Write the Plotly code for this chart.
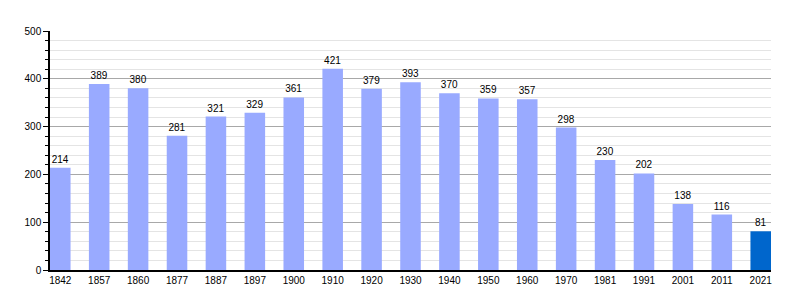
import plotly.graph_objects as go

years = ["1842", "1857", "1860", "1877", "1887", "1897", "1900", "1910", "1920", "1930",
         "1940", "1950", "1960", "1970", "1981", "1991", "2001", "2011", "2021"]
population = [214, 389, 380, 281, 321, 329, 361, 421, 379, 393,
              370, 359, 357, 298, 230, 202, 138, 116, 81]
colors = ["#99aaff"] * (len(years) - 1) + ["#0066cc"]

fig = go.Figure(go.Bar(
    x=years, y=population,
    marker=dict(color=colors, line=dict(width=0)),
    text=[str(v) for v in population],
    textposition="outside",
    textfont=dict(family="Liberation Sans, Arial, sans-serif", size=10, color="#000"),
    cliponaxis=False,
))

fig.update_layout(
    width=800, height=300,
    margin=dict(l=50, r=29, t=31, b=30),
    paper_bgcolor="white", plot_bgcolor="white",
    bargap=0.472,
    showlegend=False,
    font=dict(family="Liberation Sans, Arial, sans-serif", size=10, color="#000"),
    xaxis=dict(
        type="category", range=[-0.264, len(years) - 1 + 0.264],
        showline=True, linecolor="#000", linewidth=1.5,
        ticks="", showgrid=False, tickfont=dict(size=10),
    ),
    yaxis=dict(
        range=[0, 500], dtick=100,
        showline=True, linecolor="#000", linewidth=1.5,
        ticks="outside", ticklen=5, tickcolor="#000",
        showgrid=True, gridcolor="#a8a8a8", gridwidth=1,
        zeroline=False, tickfont=dict(size=10),
        minor=dict(dtick=20, showgrid=True, gridcolor="#e4e4e4", gridwidth=1,
                   ticks="outside", ticklen=3, tickcolor="#000"),
    ),
)

fig.write_html("out.html")
